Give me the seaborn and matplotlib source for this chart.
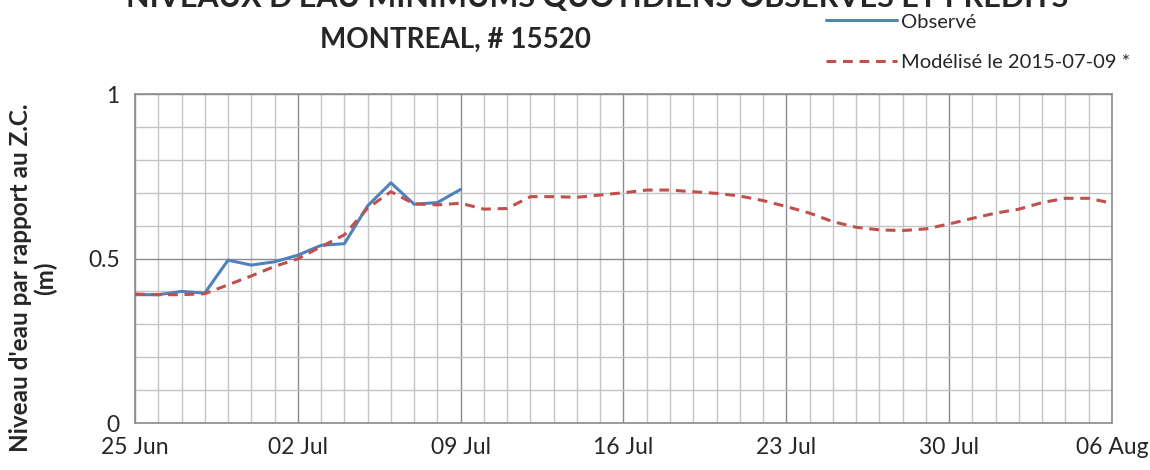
import matplotlib
matplotlib.use("Agg")
import matplotlib.pyplot as plt
import numpy as np
import pandas as pd
import seaborn as sns

# daily minimum water level (m, relative to chart datum)
dates = pd.date_range("2015-06-25", "2015-08-06", freq="D")

observe = [0.39, 0.39, 0.40, 0.395, 0.495, 0.48, 0.49, 0.51, 0.54, 0.545,
           0.66, 0.73, 0.665, 0.67, 0.71]

modelise = [0.392, 0.39, 0.39, 0.393, 0.42, 0.447, 0.476, 0.499, 0.536, 0.572,
            0.653, 0.703, 0.666, 0.663, 0.668, 0.65, 0.652, 0.688, 0.688, 0.686,
            0.693, 0.70, 0.708, 0.708, 0.703, 0.698, 0.69, 0.676, 0.658, 0.638,
            0.612, 0.595, 0.587, 0.585, 0.59, 0.605, 0.622, 0.638, 0.65, 0.67,
            0.683, 0.683, 0.668]

tick_dates = ["2015-06-25", "2015-07-02", "2015-07-09", "2015-07-16",
              "2015-07-23", "2015-07-30", "2015-08-06"]
tick_labels = ["25 Jun", "02 Jul", "09 Jul", "16 Jul", "23 Jul", "30 Jul", "06 Aug"]

lab_obs = "Observé"
lab_mod = "Modélisé le 2015-07-09 *"

df = pd.concat([
    pd.DataFrame({"date": dates[:len(observe)], "niveau": observe, "serie": lab_obs}),
    pd.DataFrame({"date": dates, "niveau": modelise, "serie": lab_mod}),
])

sns.set_style("white")
plt.rcParams["font.family"] = ["Lato", "DejaVu Sans"]

fig = plt.figure(figsize=(11.5, 4.7), dpi=100)
ax = fig.add_axes([135 / 1150, 47 / 470, 977 / 1150, 329 / 470])

sns.lineplot(data=df, x="date", y="niveau", hue="serie", style="serie",
             palette={lab_obs: "#4F81BD", lab_mod: "#C0504D"},
             dashes={lab_obs: "", lab_mod: (3.2, 2.2)},
             linewidth=2.2, ax=ax, zorder=3)

# grid: weekly / 0.5 major, daily / 0.1 minor
ax.set_xlim(dates[0], dates[-1])
ax.set_ylim(0, 1)
ax.set_xticks(pd.to_datetime(tick_dates))
ax.set_xticklabels(tick_labels)
ax.set_xticks(dates, minor=True)
ax.set_yticks([0, 0.5, 1])
ax.set_yticklabels(["0", "0.5", "1"])
ax.set_yticks(np.arange(0, 1.01, 0.1), minor=True)

ax.grid(which="major", color="#8C8C8C", linewidth=1.0)
ax.grid(which="minor", color="#C4C4C4", linewidth=1.0)
ax.set_axisbelow(True)
for s in ax.spines.values():
    s.set_color("#8C8C8C")
    s.set_linewidth(1.2)

ax.tick_params(axis="both", which="major", direction="out", length=6,
               color="#8C8C8C", width=1.0, labelsize=16.5, pad=5)
ax.tick_params(axis="both", which="minor", length=0)
ax.tick_params(axis="x", pad=4)

ax.set_xlabel("")
ax.set_ylabel("Niveau d'eau par rapport au Z.C.\n(m)", fontsize=17.5,
              fontweight="bold", linespacing=1.05)
ax.yaxis.set_label_coords(-0.080, 0.44)

ax.get_legend().remove()
handles, labels = ax.get_legend_handles_labels()
fig.legend(handles, labels, loc="upper left", bbox_to_anchor=(808 / 1150, 1.01),
           frameon=False, fontsize=14.5, handlelength=3.5, handletextpad=0.2,
           labelspacing=1.15)

fig.text(597 / 1150, 1 - 7 / 470, "NIVEAUX D'EAU MINIMUMS QUOTIDIENS OBSERVÉS ET PRÉDITS",
         ha="center", va="baseline", fontsize=22, fontweight="bold")
fig.text(456 / 1150, 1 - 48 / 470, "MONTREAL, # 15520",
         ha="center", va="baseline", fontsize=20, fontweight="bold")

fig.savefig("out.png", dpi=100)
